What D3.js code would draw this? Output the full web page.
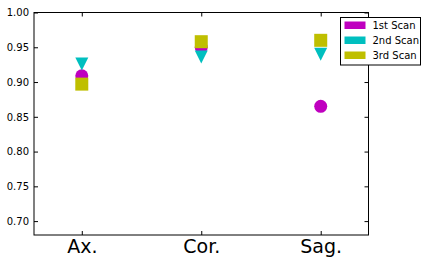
<!DOCTYPE html>
<html>
<head>
<meta charset="utf-8">
<script src="https://cdn.jsdelivr.net/npm/d3@7"></script>
<style>
  body { margin: 0; background: #fff; }
  text { font-family: "DejaVu Sans", sans-serif; }
</style>
</head>
<body>
<svg id="chart" width="429" height="265"></svg>
<script>
const categories = ['Ax.', 'Cor.', 'Sag.'];
const scan1 = [0.909, 0.950, 0.865];
const scan2 = [0.926, 0.936, 0.940];
const scan3 = [0.897, 0.958, 0.960];
const seriesNames = ['1st Scan', '2nd Scan', '3rd Scan'];
const yTicks = [0.70, 0.75, 0.80, 0.85, 0.90, 0.95, 1.00];

const colors = ['#bf00bf', '#00bfbf', '#bfbf00'];
const shapes = ['circle', 'triangle', 'square'];

const svg = d3.select('#chart');
const mLeft = 34, mRight = 368.5, mTop = 12.5, mBottom = 235;

const x = d3.scaleLinear().domain([-0.4, 2.4]).range([mLeft, mRight]);
const y = d3.scaleLinear().domain([0.68, 1.0]).range([mBottom, mTop]);

// axes with inward ticks
const g = svg.append('g');
const axisStyle = (sel) => {
  sel.select('.domain').remove();
  sel.selectAll('line').attr('stroke', '#000');
};

g.append('g').attr('transform', `translate(${mLeft},0)`)
  .call(d3.axisLeft(y).tickValues(yTicks).tickSizeInner(-4).tickSizeOuter(0).tickPadding(5).tickFormat(d3.format('.2f')))
  .call(axisStyle)
  .selectAll('text').attr('font-size', 10).attr('fill', '#000').attr('font-family', '"DejaVu Sans", sans-serif');

g.append('g').attr('transform', `translate(${mRight},0)`)
  .call(d3.axisRight(y).tickValues(yTicks).tickSizeInner(-4).tickSizeOuter(0).tickFormat(''))
  .call(axisStyle);

g.append('g').attr('transform', `translate(0,${mBottom})`)
  .call(d3.axisBottom(x).tickValues([0, 1, 2]).tickSizeInner(-4).tickSizeOuter(0).tickPadding(5).tickFormat((d) => categories[d]))
  .call(axisStyle)
  .selectAll('text').attr('font-size', 19).attr('fill', '#000').attr('font-family', '"DejaVu Sans", sans-serif');

g.append('g').attr('transform', `translate(0,${mTop})`)
  .call(d3.axisTop(x).tickValues([0, 1, 2]).tickSizeInner(-4).tickSizeOuter(0).tickFormat(''))
  .call(axisStyle);

svg.append('rect')
  .attr('x', mLeft).attr('y', mTop)
  .attr('width', mRight - mLeft).attr('height', mBottom - mTop)
  .attr('fill', 'none').attr('stroke', '#000').attr('stroke-width', 1);

// markers
const S = 6.5;
const drawMarker = (sel, shape, color) => {
  if (shape === 'circle') {
    sel.append('circle').attr('r', S).attr('fill', color);
  } else if (shape === 'triangle') {
    sel.append('path').attr('d', `M${-S},${-S}L${S},${-S}L0,${S}Z`).attr('fill', color);
  } else {
    sel.append('rect').attr('x', -S).attr('y', -S).attr('width', 2 * S).attr('height', 2 * S).attr('fill', color);
  }
};

[scan1, scan2, scan3].forEach((vals, i) => {
  svg.append('g').selectAll('g')
    .data(vals)
    .join('g')
    .attr('transform', (d, j) => `translate(${x(j)},${y(d)})`)
    .each(function () { drawMarker(d3.select(this), shapes[i], colors[i]); });
});

// legend
const lg = svg.append('g').attr('transform', 'translate(340.5,17.5)');
lg.append('rect').attr('width', 80).attr('height', 47.5)
  .attr('fill', '#fff').attr('stroke', '#000').attr('stroke-width', 1);
seriesNames.forEach((name, i) => {
  const row = lg.append('g').attr('transform', `translate(0,${7.5 + i * 15})`);
  row.append('rect').attr('x', 4).attr('y', -3.5).attr('width', 21).attr('height', 7.5).attr('fill', colors[i]);
  row.append('text').attr('x', 32).attr('y', 3.5).attr('font-size', 10).attr('fill', '#000').text(name);
});
</script>
</body>
</html>
